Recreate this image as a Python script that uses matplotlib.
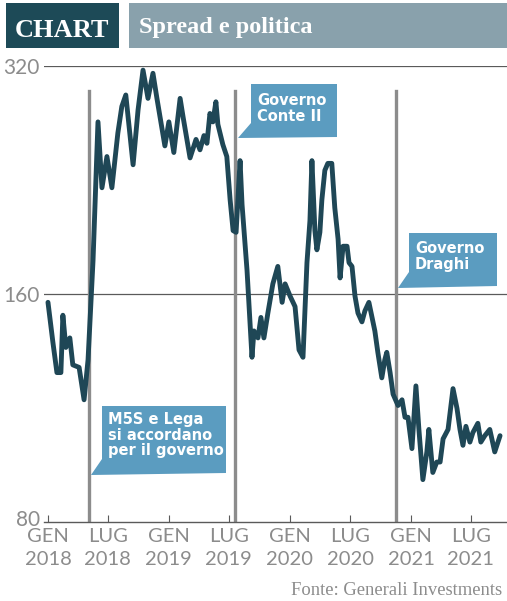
import matplotlib
matplotlib.use("Agg")
import matplotlib.pyplot as plt
import matplotlib.ticker as mticker
import matplotlib.transforms as mtransforms
from matplotlib.patches import Rectangle, Polygon
import pandas as pd

# ---- data (BTP-Bund spread, bp) ----
dates = [
    "2018-01-01", "2018-01-16", "2018-01-28", "2018-02-09", "2018-02-15", "2018-02-24",
    "2018-03-08", "2018-03-17", "2018-04-05", "2018-04-20", "2018-05-02", "2018-05-17",
    "2018-06-01", "2018-06-13", "2018-06-28", "2018-07-13", "2018-07-31", "2018-08-12",
    "2018-08-24", "2018-09-15", "2018-09-30", "2018-10-15", "2018-10-30", "2018-11-14",
    "2018-11-26", "2018-12-20", "2019-01-01", "2019-01-16", "2019-02-04", "2019-02-13",
    "2019-03-06", "2019-03-24", "2019-04-05", "2019-04-17", "2019-04-26", "2019-05-05",
    "2019-05-14", "2019-05-23", "2019-05-29", "2019-06-13", "2019-06-25", "2019-07-05",
    "2019-07-14", "2019-07-23", "2019-08-04", "2019-08-10", "2019-08-25", "2019-09-09",
    "2019-09-15", "2019-09-27", "2019-10-06", "2019-10-15", "2019-10-27", "2019-11-11",
    "2019-11-26", "2019-12-09", "2019-12-18", "2020-01-02", "2020-01-17", "2020-01-29",
    "2020-02-10", "2020-02-22", "2020-03-02", "2020-03-08", "2020-03-17", "2020-03-23",
    "2020-04-01", "2020-04-07", "2020-04-16", "2020-04-25", "2020-05-07", "2020-05-16",
    "2020-05-26", "2020-06-01", "2020-06-10", "2020-06-22", "2020-06-28", "2020-07-07",
    "2020-07-16", "2020-07-25", "2020-08-06", "2020-08-15", "2020-08-27", "2020-09-14",
    "2020-09-23", "2020-10-05", "2020-10-14", "2020-10-20", "2020-10-30", "2020-11-08",
    "2020-11-23", "2020-12-05", "2020-12-14", "2020-12-23", "2021-01-04", "2021-01-16",
    "2021-01-25", "2021-02-06", "2021-02-18", "2021-02-24", "2021-03-08", "2021-03-20",
    "2021-03-30", "2021-04-08", "2021-04-23", "2021-05-08", "2021-05-20", "2021-05-29",
    "2021-06-07", "2021-06-16", "2021-06-28", "2021-07-07", "2021-07-22", "2021-07-31",
    "2021-08-12", "2021-08-27", "2021-09-11", "2021-09-27",
]
spread = [
    156, 138, 126, 126, 150, 136,
    140, 129, 128, 116, 131, 177,
    270, 221, 243, 221, 261, 283,
    293, 237, 280, 316, 290, 313,
    290, 251, 270, 246, 290, 274,
    242, 256, 248, 259, 253, 277,
    270, 287, 268, 252, 243, 213,
    194, 193, 240, 210, 172, 132,
    143, 140, 149, 140, 151, 165,
    174, 156, 165, 159, 154, 135,
    132, 176, 200, 240, 194, 183,
    193, 213, 233, 238, 238, 208,
    189, 168, 185, 185, 176, 174,
    159, 151, 147, 152, 156, 143,
    134, 124, 131, 134, 126, 118,
    114, 116, 110, 110, 100, 121,
    106, 91, 99, 106, 93, 96,
    96, 103, 106, 120, 113, 106,
    101, 107, 102, 105, 108, 102,
    104, 106, 99, 104,
]

tick_dates = ["2018-01-01", "2018-07-01", "2019-01-01", "2019-07-01",
              "2020-01-01", "2020-07-01", "2021-01-01", "2021-07-01"]
tick_labels = ["GEN\n2018", "LUG\n2018", "GEN\n2019", "LUG\n2019",
               "GEN\n2020", "LUG\n2020", "GEN\n2021", "LUG\n2021"]
y_ticks = [80, 160, 320]
y_tick_labels = ["80", "160", "320"]

event_dates = ["2018-05-05", "2019-07-20", "2020-11-17"]
event_labels = ["M5S e Lega\nsi accordano\nper il governo",
                "Governo\nConte II",
                "Governo\nDraghi"]

title_tag = "CHART"
title = "Spread e politica"
source = "Fonte: Generali Investments"

# ---- styles ----
DARK = "#1d4a57"
HEADER_GREY = "#89a1ac"
BOX_BLUE = "#5b9cc0"
LINE_COL = "#1f4756"
VLINE_COL = "#8c8c8c"
GRID_COL = "#5a5a5a"
TXT_GREY = "#8c8c8c"

W, H = 507, 601
fig = plt.figure(figsize=(W / 100, H / 100), dpi=100)
fig.patch.set_facecolor("white")


def fx(px):
    return px / W


def fy(py):
    return 1 - py / H


# header
fig.patches.append(Rectangle((fx(6), fy(48)), fx(119) - fx(6), fy(3) - fy(48),
                             transform=fig.transFigure, color=DARK, lw=0))
fig.patches.append(Rectangle((fx(129), fy(48)), fx(W) - fx(129), fy(3) - fy(48),
                             transform=fig.transFigure, color=HEADER_GREY, lw=0))
fig.text(fx(62.5), fy(37), title_tag, color="white", fontsize=19, fontweight="bold",
         family="Liberation Serif", ha="center", va="baseline")
fig.text(fx(139), fy(33), title, color="white", fontsize=17.5, fontweight="bold",
         family="Liberation Serif", ha="left", va="baseline")

# axes
ax = fig.add_axes([fx(44), fy(522), fx(W) - fx(44), fy(66) - fy(522)])
ax.set_yscale("log", base=2)
ax.set_ylim(80, 320)
ax.set_xlim(pd.Timestamp("2017-12-20"), pd.Timestamp("2021-10-18"))

for s in ["top", "left", "right"]:
    ax.spines[s].set_visible(False)
ax.spines["bottom"].set_color(GRID_COL)
ax.spines["bottom"].set_linewidth(1.0)

for yv in y_ticks[1:]:
    ax.axhline(yv, color=GRID_COL, lw=0.9, zorder=1)

ax.yaxis.set_major_locator(mticker.FixedLocator(y_ticks))
ax.yaxis.set_minor_locator(mticker.NullLocator())
ax.set_yticklabels(y_tick_labels)
ax.tick_params(axis="y", length=0, pad=3, labelsize=15, labelcolor=TXT_GREY)

ax.set_xticks(pd.to_datetime(tick_dates))
ax.set_xticklabels(tick_labels, linespacing=1.45)
ax.xaxis.set_minor_locator(mticker.NullLocator())
ax.tick_params(axis="x", direction="in", length=5, width=0.8, color=GRID_COL,
               pad=4, labelsize=14.5, labelcolor=TXT_GREY)
for lab in ax.get_xticklabels() + ax.get_yticklabels():
    lab.set_family("Lato")
    lab.set_fontweight("normal")

# nudge the bottom "80" label up slightly so it clears "GEN 2018"
lab80 = ax.get_yticklabels()[0]
lab80.set_transform(lab80.get_transform() +
                    mtransforms.ScaledTranslation(0, 4 / 100, fig.dpi_scale_trans))

for d in event_dates:
    ax.axvline(pd.Timestamp(d), ymin=0, ymax=0.945, color=VLINE_COL, lw=2.4, zorder=2)

ax.plot(pd.to_datetime(dates), spread, color=LINE_COL, lw=3.5,
        solid_joinstyle="round", solid_capstyle="round", zorder=3)

# annotation boxes (pixel layout)
boxes = [
    (102, 406, 226, 473, 91, 475, 412),
    (251, 84, 337, 137, 238, 138, 93),
    (409, 233, 497, 286, 398, 288, 241),
]
for (L, T, R, B, tx, ty, ttop), lab in zip(boxes, event_labels):
    pts = [(fx(L), fy(T)), (fx(R), fy(T)), (fx(R), fy(B)), (fx(tx), fy(ty)),
           (fx(L), fy(B - 14))]
    fig.patches.append(Polygon(pts, closed=True, transform=fig.transFigure,
                               color=BOX_BLUE, lw=0))
    fig.text(fx(L + 6), fy(ttop), lab, color="white", fontsize=10.5,
             fontweight="bold", family="DejaVu Sans", ha="left", va="top",
             linespacing=1.05)

fig.text(fx(291), fy(595), source, color=TXT_GREY, fontsize=13.4,
         family="Liberation Serif", ha="left", va="baseline")

fig.savefig("out.png", dpi=100)
